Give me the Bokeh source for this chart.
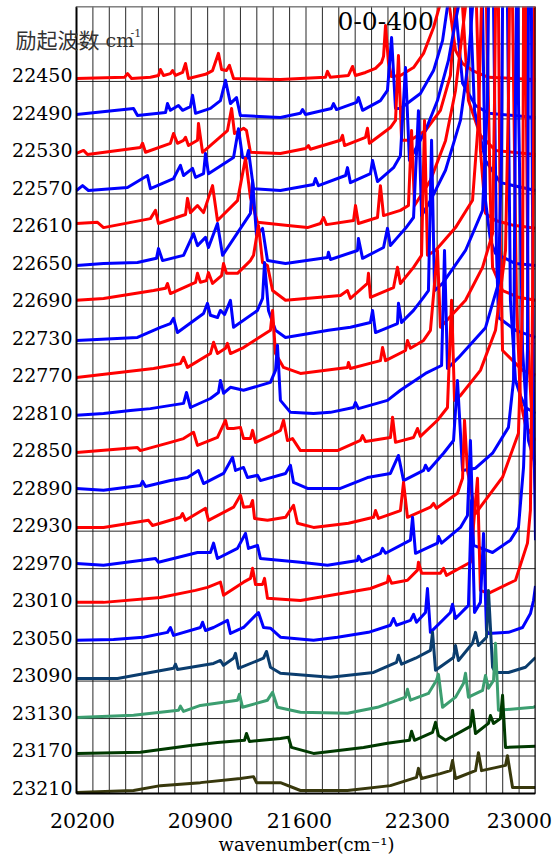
from bokeh.plotting import figure
from bokeh.models import FixedTicker, CustomJSTickFormatter, Title
from bokeh.core.properties import value
from bokeh.embed import file_html
from bokeh.resources import INLINE

EXCITATION = [22450, 22490, 22530, 22570, 22610, 22650, 22690, 22730, 22770, 22810,
              22850, 22890, 22930, 22970, 23010, 23050, 23090, 23130, 23170, 23210]
COLORS = ["#ff0000", "#0000ff"] * 8 + ["#0b3d6e", "#3c9e70", "#003a00", "#38380c"]
X_TICK_LABELS = ["20200", "20900", "21600", "22300", "23000"]
X_TICK_POS = [20237, 20956, 21560, 22280, 22902]
WN_MIN, WN_MAX, WN_STEP = 20200, 23000, 100

# each spectrum: (wavenumber cm-1, intensity above its own baseline, in grid rows)
s_22450 = [(20200,.08),(20493,.11),(20511,.21),(20536,.08),(20651,.11),(20700,.16),(20712,.32),(20731,.16),(20773,.21),(20786,.29),(20804,.16),(20847,.24),(20865,.48),(20883,.08),(20987,.19),(21030,.29),(21066,.75),(21085,.32),(21115,.29),(21133,.43),(21158,.08),(21444,.05),(21719,.11),(21731,.27),(21749,.11),(21859,.16),(21884,.40),(21902,.16),(21963,.24),(22024,.35),(22061,.51),(22073,.67),(22085,1.49),(22103,.51),(22122,.13),(22176,.16),(22256,.37),(22317,.75),(22378,1.44),(22414,2.0),(22450,12),(22475,2.0),(22512,.83),(22555,.48),(22616,.29),(22713,.11),(23000,.05)]
s_22490 = [(20200,.12),(20548,.28),(20572,.09),(20743,.17),(20755,.41),(20773,.23),(20822,.36),(20847,.23),(20895,.33),(20908,.63),(20926,.15),(21017,.28),(21078,.49),(21109,1.03),(21139,.41),(21176,.57),(21200,.09),(21444,.04),(21566,.15),(21579,.25),(21597,.12),(21755,.28),(21768,.41),(21786,.25),(21908,.44),(21920,.57),(21945,.23),(22054,.49),(22097,.76),(22122,2.17),(22146,.28),(22176,.28),(22298,.68),(22378,1.29),(22433,2.09),(22463,3.0),(22490,12),(22512,3.0),(22555,.95),(22634,.36),(22713,.15),(23000,.04)]
s_22530 = [(20200,.08),(20243,.16),(20267,.05),(20590,.24),(20603,.35),(20621,.11),(20773,.35),(20792,.61),(20816,.35),(20853,.43),(20865,.51),(20883,.29),(20938,.43),(20944,.88),(20969,.11),(21121,.69),(21146,1.28),(21164,.61),(21219,.75),(21237,.69),(21261,.11),(21444,.08),(21597,.21),(21615,.29),(21627,.19),(21810,.43),(21823,.56),(21835,.29),(21963,.51),(21975,.75),(21987,.35),(22115,.77),(22146,.96),(22164,2.69),(22183,.43),(22237,.43),(22329,.69),(22420,1.23),(22481,2.16),(22512,4.0),(22530,14),(22555,4.0),(22591,1.49),(22664,.56),(22756,.16),(23000,.05)]
s_22570 = [(20200,.09),(20237,.22),(20273,.09),(20511,.17),(20633,.49),(20651,.14),(20792,.41),(20834,.76),(20853,.49),(20908,.68),(20926,.44),(20975,.54),(20987,1.08),(21005,.54),(21158,.97),(21188,1.74),(21213,.97),(21237,.94),(21249,1.16),(21280,.14),(21444,.09),(21646,.25),(21658,.41),(21676,.22),(21841,.49),(21853,.70),(21871,.30),(21993,.54),(22006,.89),(22036,.33),(22134,.70),(22176,1.02),(22207,3.37),(22231,.89),(22329,1.69),(22402,2.49),(22469,3.56),(22512,4.62),(22530,5.0),(22570,14),(22603,5.0),(22628,2.22),(22695,.89),(22786,.30),(23000,.09)]
s_22610 = [(20200,.21),(20328,.24),(20365,.10),(20651,.34),(20682,.56),(20700,.21),(20865,.45),(20877,.88),(20895,.50),(20938,.69),(20975,.50),(21030,1.22),(21060,.29),(21182,.82),(21231,1.95),(21261,.90),(21304,.24),(21475,.16),(21609,.10),(21688,.21),(21707,.37),(21725,.18),(21890,.29),(21902,.69),(21920,.21),(22036,.37),(22054,1.22),(22073,.42),(22176,.56),(22225,.69),(22244,2.69),(22262,.69),(22359,1.36),(22451,2.42),(22512,3.76),(22555,5.36),(22573,6.0),(22610,14),(22640,6.0),(22664,2.16),(22695,.48),(22756,.29),(22866,.16),(23000,.08)]
s_22650 = [(20200,.09),(20365,.14),(20572,.17),(20688,.28),(20700,.54),(20725,.22),(20853,.36),(20914,.94),(20938,.62),(20987,.84),(21005,.57),(21060,1.21),(21091,.36),(21261,1.48),(21274,2.36),(21298,.89),(21335,1.08),(21365,.22),(21475,.14),(21731,.30),(21737,.44),(21749,.25),(21914,.49),(21920,.81),(21945,.28),(22073,.57),(22097,1.08),(22115,.62),(22158,.84),(22207,1.08),(22256,1.37),(22286,4.22),(22305,1.42),(22359,1.82),(22451,2.63),(22542,3.96),(22591,5.56),(22616,7.0),(22650,14),(22677,7.0),(22695,1.82),(22725,.76),(22756,.41),(22878,.14),(23000,.09)]
s_22690 = [(20200,.16),(20365,.21),(20670,.42),(20743,.48),(20755,.61),(20773,.34),(20926,.64),(20938,.88),(20956,.64),(20993,.69),(21005,.90),(21030,.61),(21085,.82),(21097,1.14),(21115,.88),(21182,.88),(21261,1.22),(21280,1.36),(21310,2.16),(21335,1.17),(21365,1.09),(21396,.42),(21475,.16),(21810,.29),(21853,.42),(21871,.21),(21975,.61),(21981,.88),(21993,.24),(22134,.50),(22158,1.04),(22176,.61),(22256,1.04),(22305,1.36),(22323,4.96),(22341,1.36),(22390,1.49),(22512,2.10),(22616,2.83),(22652,4.96),(22670,8.0),(22690,14),(22701,8.0),(22725,2.83),(22738,1.04),(22799,.42),(22896,.24),(23000,.16)]
s_22730 = [(20200,.09),(20572,.17),(20712,.44),(20773,.54),(20792,.68),(20816,.30),(20975,.81),(20999,1.08),(21017,.76),(21060,.70),(21078,.89),(21103,.78),(21139,1.16),(21158,.44),(21304,.89),(21335,1.21),(21347,2.17),(21371,.89),(21414,.36),(21475,.17),(21737,.36),(21871,.44),(21993,.57),(22006,.89),(22024,.30),(22158,.54),(22164,1.08),(22183,.57),(22256,.89),(22317,1.24),(22347,1.42),(22366,5.43),(22384,1.42),(22433,1.61),(22573,2.49),(22677,3.56),(22707,6.49),(22713,9.0),(22730,14),(22744,9.0),(22762,2.49),(22774,.70),(22878,.36),(23000,.17)]
s_22770 = [(20200,.10),(20670,.34),(20834,.47),(20853,.64),(20877,.37),(21017,.74),(21036,1.04),(21060,.74),(21109,.88),(21121,1.01),(21139,.74),(21219,.90),(21383,1.36),(21396,1.89),(21414,.74),(21463,.37),(21566,.21),(21853,.37),(21859,.50),(21871,.34),(22054,.55),(22067,.90),(22085,.55),(22207,.82),(22219,1.09),(22237,.88),(22317,1.09),(22359,1.36),(22402,3.49),(22420,1.44),(22573,2.16),(22677,3.04),(22738,3.94),(22750,7.49),(22756,10),(22770,14),(22774,10),(22786,3.49),(22799,.82),(22921,.29),(23000,.16)]
s_22810 = [(20200,.09),(20365,.14),(20529,.22),(20651,.27),(20853,.41),(20871,.70),(20895,.30),(21017,.54),(21066,.70),(21078,1.02),(21097,.68),(21139,.84),(21219,.76),(21383,.97),(21414,1.29),(21426,1.96),(21444,.49),(21505,.17),(21646,.14),(21749,.17),(21890,.30),(21902,.43),(21920,.27),(22097,.49),(22176,.76),(22329,1.21),(22427,1.42),(22445,4.49),(22463,1.34),(22530,1.63),(22695,2.43),(22774,3.61),(22793,7.16),(22799,11),(22810,14),(22829,11),(22847,3.16),(22878,1.02),(22908,.62),(22939,.30),(23000,.14)]
s_22850 = [(20200,.10),(20572,.23),(20590,.15),(20773,.37),(20853,.47),(20914,.64),(20938,.29),(21060,.50),(21109,.96),(21121,.74),(21158,.74),(21200,.77),(21219,.47),(21261,.47),(21274,.69),(21292,.37),(21383,.55),(21444,.69),(21463,.96),(21487,.42),(21518,.47),(21566,.15),(21792,.15),(21932,.42),(21945,.55),(21963,.39),(22115,.50),(22128,1.04),(22146,.37),(22256,.50),(22280,.74),(22298,.53),(22402,.96),(22463,1.30),(22488,4.16),(22506,1.49),(22542,1.62),(22664,2.29),(22756,3.36),(22817,5.49),(22835,9.49),(22841,12),(22850,16),(22860,12),(22884,4.16),(22908,1.49),(22939,.82),(23000,.42)]
s_22890 = [(20200,.14),(20365,.09),(20590,.22),(20603,.33),(20621,.19),(20773,.35),(20877,.43),(20944,.62),(20975,.27),(21097,.54),(21152,.97),(21170,.62),(21219,.70),(21243,.43),(21304,.49),(21322,.35),(21475,.54),(21505,.76),(21524,.30),(21609,.14),(21810,.14),(21975,.43),(22115,.54),(22164,1.02),(22195,.35),(22317,.62),(22329,.76),(22347,.62),(22439,1.08),(22500,1.42),(22524,3.02),(22555,.62),(22634,.68),(22738,1.08),(22835,1.77),(22866,3.02),(22878,10.5),(22890,16),(22896,10.5),(22921,3.82),(22957,1.42),(23000,.76)]
s_22930 = [(20200,.10),(20365,.10),(20639,.29),(20664,.15),(20834,.37),(20847,.47),(20865,.29),(20987,.61),(21005,.29),(21158,.64),(21200,.96),(21219,.64),(21261,.66),(21274,.82),(21286,.34),(21365,.29),(21475,.37),(21524,.69),(21548,.21),(21646,.10),(21859,.21),(22012,.37),(22024,.55),(22042,.34),(22176,.55),(22195,1.30),(22219,.37),(22359,.64),(22378,.74),(22396,.61),(22524,1.01),(22555,1.41),(22567,2.96),(22585,1.62),(22634,.47),(22799,1.44),(22896,2.61),(22921,6.15),(22927,14),(22930,16),(22939,14),(22957,4.82),(23000,1.09)]
s_22970 = [(20200,.14),(20365,.09),(20682,.27),(20700,.17),(20938,.43),(21017,.43),(21036,.68),(21060,.27),(21182,.54),(21231,.94),(21249,.54),(21304,.62),(21322,.27),(21566,.17),(21731,.09),(21914,.22),(21920,.33),(21939,.19),(22054,.41),(22067,.54),(22085,.41),(22237,.76),(22250,1.37),(22268,.41),(22402,.68),(22408,.86),(22427,.68),(22542,1.10),(22585,1.42),(22603,3.42),(22622,.62),(22738,.43),(22847,.76),(22896,1.10),(22927,2.70),(22951,5.82),(22957,15),(22970,16),(22975,15),(22988,4.49),(23000,.76)]
s_23010 = [(20200,.10),(20365,.10),(20712,.23),(20926,.42),(20999,.50),(21078,.64),(21097,.29),(21219,.64),(21261,.74),(21274,1.01),(21292,.58),(21335,.58),(21347,.74),(21365,.21),(21566,.15),(21993,.47),(22097,.64),(22103,.80),(22122,.61),(22219,.69),(22280,.96),(22286,1.17),(22305,.88),(22420,.88),(22439,1.01),(22457,.82),(22603,1.17),(22646,3.41),(22664,.42),(22713,.34),(22878,.69),(22951,1.68),(22969,2.56),(22982,8.16),(22994,16),(23010,16)]
s_23050 = [(20200,.09),(20426,.11),(20609,.17),(20755,.30),(20773,.43),(20792,.22),(20956,.43),(20969,.57),(20987,.35),(21036,.43),(21121,.62),(21139,.27),(21219,.43),(21310,.83),(21341,.43),(21383,.41),(21444,.17),(21646,.09),(21792,.17),(21981,.30),(22115,.49),(22134,.67),(22152,.49),(22237,.62),(22256,.78),(22274,.57),(22329,.83),(22341,1.47),(22359,.30),(22481,.83),(22494,1.05),(22512,.67),(22591,1.02),(22610,3.82),(22628,.83),(22664,1.10),(22683,2.94),(22701,.35),(22713,.27),(22835,.30),(22921,.43),(22969,.80),(22988,1.15),(23000,1.54)]
s_23090 = [(20200,.07),(20450,.07),(20792,.34),(20804,.45),(20816,.31),(21036,.47),(21078,.55),(21097,.42),(21158,.61),(21170,.74),(21188,.34),(21341,.61),(21359,.79),(21383,.37),(21444,.21),(21749,.10),(22012,.23),(22152,.50),(22164,.69),(22183,.45),(22268,.61),(22359,.82),(22372,1.30),(22390,.29),(22500,.63),(22512,.95),(22530,.55),(22616,1.01),(22634,1.30),(22652,.95),(22701,1.17),(22713,2.42),(22738,.37),(22756,.23),(22835,.23),(22939,.37),(23000,.63)]
s_23130 = [(20200,.03),(20548,.09),(20822,.22),(20834,.33),(20853,.19),(20956,.35),(21182,.49),(21194,.65),(21213,.30),(21365,.49),(21396,.70),(21426,.30),(21566,.17),(21853,.14),(22036,.30),(22207,.57),(22219,.78),(22237,.49),(22347,.67),(22396,1.02),(22408,1.18),(22433,.30),(22512,.57),(22561,.94),(22573,1.21),(22591,.57),(22677,.75),(22695,1.15),(22713,.81),(22744,1.02),(22756,2.01),(22774,.22),(22988,.30),(23000,.33)]
s_23170 = [(20200,.07),(20590,.10),(20895,.28),(21060,.36),(21225,.42),(21237,.60),(21255,.39),(21444,.47),(21493,.50),(21511,.23),(21646,.07),(21951,.23),(22097,.34),(22231,.42),(22244,.66),(22262,.42),(22372,.63),(22390,.90),(22408,.55),(22451,.42),(22603,.79),(22616,1.22),(22634,.60),(22713,.87),(22725,1.08),(22744,.87),(22786,1.00),(22799,1.62),(22817,.23),(23000,.26)]
s_23210 = [(20200,.03),(20548,.08),(20712,.21),(20956,.29),(21200,.40),(21280,.45),(21298,.29),(21444,.29),(21566,.08),(21853,.08),(22115,.21),(22274,.43),(22286,.67),(22305,.40),(22420,.53),(22481,.61),(22494,.88),(22512,.40),(22634,.61),(22652,1.09),(22671,.61),(22756,.69),(22817,.75),(22829,1.01),(22860,.16),(23000,.16)]

SPECTRA = [s_22450, s_22490, s_22530, s_22570, s_22610, s_22650, s_22690, s_22730,
           s_22770, s_22810, s_22850, s_22890, s_22930, s_22970, s_23010, s_23050,
           s_23090, s_23130, s_23170, s_23210]

N = len(EXCITATION)
SERIF = "DejaVu Serif"

# layout: the plotting area is 459 px wide for 2800 cm-1; the frame also covers
# the 76 px label column on its left (header text overlaps both) and a small
# strip below the last row so that its label is not cut
W, H = 560, 859
LEFT, RIGHT, TOP, BOTTOM = 76, 25, 6, 66
ROW_PX = (H - TOP - BOTTOM) / (N + 1)
EXTRA_BOTTOM = 12
PER_PX = (WN_MAX - WN_MIN) / (W - LEFT - RIGHT)
X_START = WN_MIN - LEFT * PER_PX
Y_START = -EXTRA_BOTTOM / ROW_PX

p = figure(width=W, height=H, x_range=(X_START, WN_MAX), y_range=(Y_START, N + 1),
           output_backend="svg", toolbar_location=None, y_axis_location=None,
           min_border_left=0, min_border_right=RIGHT, min_border_top=TOP,
           min_border_bottom=BOTTOM - EXTRA_BOTTOM)
p.background_fill_color = "white"
p.border_fill_color = "white"
p.outline_line_color = None
p.grid.visible = False

# grid: one cell per 100 cm-1 and one row per spectrum
vx = list(range(WN_MIN, WN_MAX + 1, WN_STEP))
p.segment(x0=vx, y0=[0] * len(vx), x1=vx, y1=[N + 1] * len(vx),
          line_color="#111111", line_width=1, line_alpha=0.9)
hy = list(range(0, N + 2))
p.segment(x0=[WN_MIN] * len(hy), y0=hy, x1=[WN_MAX] * len(hy), y1=hy,
          line_color="#111111", line_width=1, line_alpha=0.9)

for i, (spec, col) in enumerate(zip(SPECTRA, COLORS)):
    base = N - 1 - i
    xs = [a for a, _ in spec]
    ys = [b + base for _, b in spec]
    p.line(xs, ys, line_color=col, line_width=3, line_join="round")

# frame border (drawn over the spectra)
p.segment(x0=[WN_MIN, WN_MIN, WN_MAX], y0=[0, 0, 0], x1=[WN_MAX, WN_MIN, WN_MAX],
          y1=[0, N + 1, N + 1], line_color="black", line_width=2)
p.segment(x0=[WN_MIN], y0=[N + 1], x1=[WN_MAX], y1=[N + 1],
          line_color="#777777", line_width=2)

# excitation wavenumbers, written left of each spectrum's baseline
LABEL_OFF = 0.16
p.text(x=[WN_MIN - 4 * PER_PX] * N, y=[N - 1 - i + LABEL_OFF for i in range(N)],
       text=[str(e) for e in EXCITATION], text_align="right", text_baseline="middle",
       text_font=value(SERIF), text_font_size=value("19px"), text_color="black")

# header texts
p.text(x=[WN_MIN - 61 * PER_PX], y=[N + 0.12], text=["励起波数"], text_align="left",
       text_baseline="middle", text_font=value("Noto Sans CJK SC"),
       text_font_size=value("21px"), text_color="#333333")
p.text(x=[WN_MIN + 29 * PER_PX], y=[N + 0.1], text=["cm"], text_align="left",
       text_baseline="middle", text_font=value(SERIF),
       text_font_size=value("19px"), text_color="#333333")
p.text(x=[WN_MIN + 54 * PER_PX], y=[N + 0.3], text=["-1"], text_align="left",
       text_baseline="middle", text_font=value(SERIF),
       text_font_size=value("11px"), text_color="#333333")
p.text(x=[WN_MIN + 261 * PER_PX], y=[N + 0.62], text=["0-0-400"], text_align="left",
       text_baseline="middle", text_font=value(SERIF),
       text_font_size=value("25px"), text_color="black")

p.xaxis.ticker = FixedTicker(ticks=X_TICK_POS)
p.xaxis.formatter = CustomJSTickFormatter(
    args=dict(labels=X_TICK_LABELS, pos=X_TICK_POS),
    code="const i = pos.indexOf(tick); return i >= 0 ? labels[i] : '';")
p.xaxis.major_tick_line_color = None
p.xaxis.minor_tick_line_color = None
p.xaxis.axis_line_color = None
p.xaxis.major_label_standoff = 1
p.xaxis.major_label_text_font = SERIF
p.xaxis.major_label_text_font_size = "20.5px"
p.xaxis.major_label_text_color = "black"

# axis title under the plotting area (its left edge placed in pixels from the frame's left)
p.add_layout(Title(text="wavenumber(cm\u207b\u00b9)", align="left", offset=218,
                   text_font=SERIF, text_font_style="normal", text_font_size="18px",
                   text_color="black", standoff=2), "below")

open("out.html", "w").write(file_html(p, INLINE))
